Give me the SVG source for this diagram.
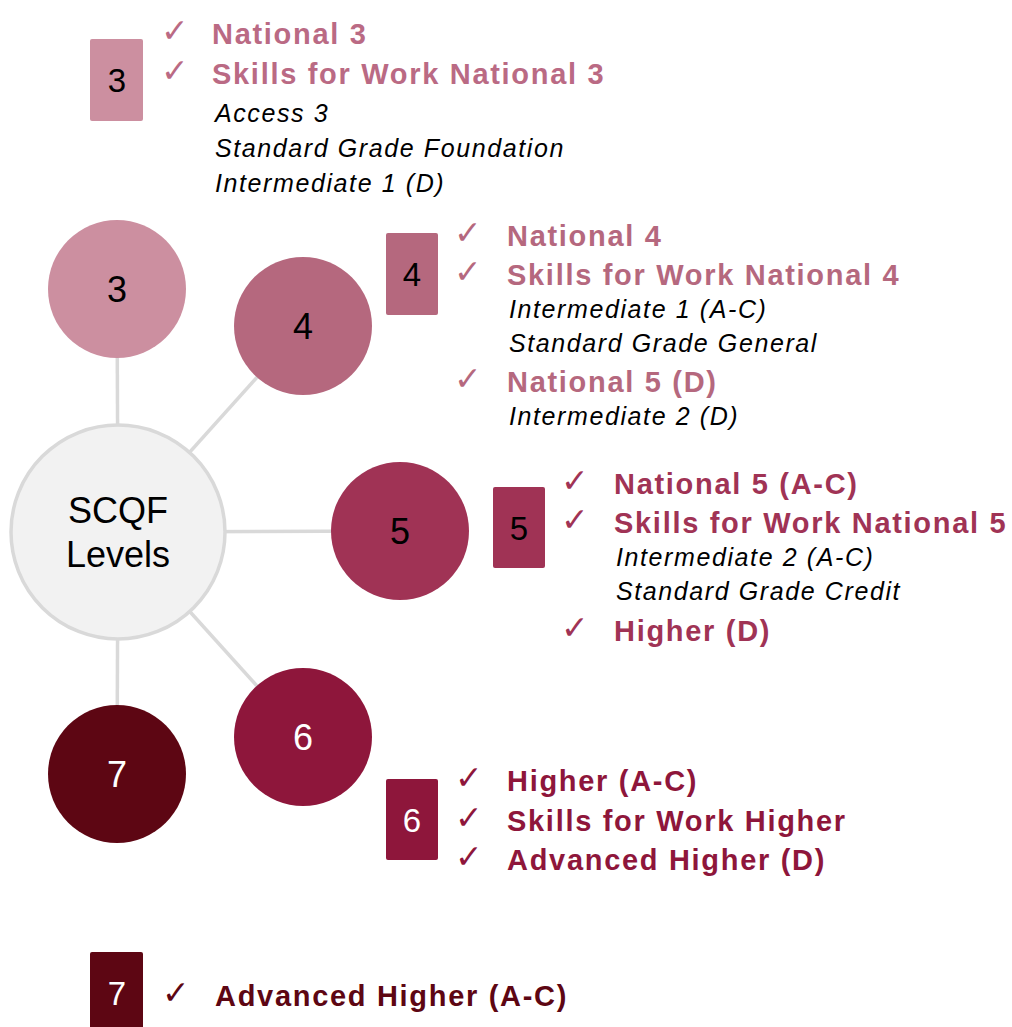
<svg xmlns="http://www.w3.org/2000/svg" width="1012" height="1027" viewBox="0 0 1012 1027">
<style>
.b{font-family:"Liberation Sans",Arial,sans-serif;font-weight:bold;font-size:29px;letter-spacing:1.7px}
.i{font-family:"Liberation Sans",Arial,sans-serif;font-style:italic;font-size:25px;letter-spacing:1.6px;fill:#000}
.ck{font-family:"DejaVu Sans",sans-serif;font-size:33px}
.n{font-family:"Liberation Sans",Arial,sans-serif;font-size:36px;text-anchor:middle}
.bx{font-family:"Liberation Sans",Arial,sans-serif;font-size:33px;text-anchor:middle}
.c3{fill:#cc8fa0}.c4{fill:#b5687e}.c5{fill:#a03355}.c6{fill:#8e163b}.c7{fill:#5d0613}
.t3{fill:#ba6a84}.t4{fill:#b5687e}.t5{fill:#a03355}.t6{fill:#8e163b}.t7{fill:#5d0613}
.con{stroke:#d9d9d9;stroke-width:3.5;fill:none}
</style>
<rect width="1012" height="1027" fill="#fff"/>
<g id="connectors">
<line class="con" x1="118" y1="532" x2="117" y2="289"/>
<line class="con" x1="118" y1="532" x2="303" y2="326"/>
<line class="con" x1="118" y1="532" x2="400" y2="531"/>
<line class="con" x1="118" y1="532" x2="303" y2="737"/>
<line class="con" x1="118" y1="532" x2="117" y2="774"/>
</g>
<g id="center">
<circle cx="118" cy="532" r="107" fill="#f2f2f2" stroke="#d9d9d9" stroke-width="3.5"/>
<text x="118" y="523" class="n">SCQF</text>
<text x="118" y="567" class="n">Levels</text>
</g>
<g id="circle3"><circle cx="117" cy="289" r="69" class="c3"/><text x="117" y="302" class="n">3</text></g>
<g id="circle4"><circle cx="303" cy="326" r="69" class="c4"/><text x="303" y="339" class="n">4</text></g>
<g id="circle5"><circle cx="400" cy="531" r="69" class="c5"/><text x="400" y="544" class="n">5</text></g>
<g id="circle6"><circle cx="303" cy="737" r="69" class="c6"/><text x="303" y="750" class="n" fill="#fff">6</text></g>
<g id="circle7"><circle cx="117" cy="774" r="69" class="c7"/><text x="117" y="787" class="n" fill="#fff">7</text></g>

<g id="level3">
<rect x="90" y="39" width="53" height="82" rx="2" class="c3"/>
<text x="117" y="92" class="bx">3</text>
<text x="161" y="42" class="ck t3">✓</text>
<text x="212" y="44" class="b t3">National 3</text>
<text x="161" y="82" class="ck t3">✓</text>
<text x="212" y="84" class="b t3">Skills for Work National 3</text>
<text x="215" y="122" class="i">Access 3</text>
<text x="215" y="157" class="i">Standard Grade Foundation</text>
<text x="215" y="192" class="i">Intermediate 1 (D)</text>
</g>
<g id="level4">
<rect x="386" y="233" width="52" height="82" rx="2" class="c4"/>
<text x="412" y="286" class="bx">4</text>
<text x="454" y="244" class="ck t4">✓</text>
<text x="507" y="246" class="b t4">National 4</text>
<text x="454" y="283" class="ck t4">✓</text>
<text x="507" y="285" class="b t4">Skills for Work National 4</text>
<text x="509" y="318" class="i">Intermediate 1 (A-C)</text>
<text x="509" y="352" class="i">Standard Grade General</text>
<text x="454" y="390" class="ck t4">✓</text>
<text x="507" y="392" class="b t4">National 5 (D)</text>
<text x="509" y="425" class="i">Intermediate 2 (D)</text>
</g>
<g id="level5">
<rect x="493" y="487" width="52" height="81" rx="2" class="c5"/>
<text x="519" y="540" class="bx">5</text>
<text x="561" y="492" class="ck t5">✓</text>
<text x="614" y="494" class="b t5">National 5 (A-C)</text>
<text x="561" y="531" class="ck t5">✓</text>
<text x="614" y="533" class="b t5">Skills for Work National 5</text>
<text x="616" y="566" class="i">Intermediate 2 (A-C)</text>
<text x="616" y="600" class="i">Standard Grade Credit</text>
<text x="561" y="639" class="ck t5">✓</text>
<text x="614" y="641" class="b t5">Higher (D)</text>
</g>
<g id="level6">
<rect x="386" y="779" width="52" height="81" rx="2" class="c6"/>
<text x="412" y="832" class="bx" fill="#fff">6</text>
<text x="455" y="789" class="ck t6">✓</text>
<text x="507" y="791" class="b t6">Higher (A-C)</text>
<text x="455" y="829" class="ck t6">✓</text>
<text x="507" y="831" class="b t6">Skills for Work Higher</text>
<text x="455" y="868" class="ck t6">✓</text>
<text x="507" y="870" class="b t6">Advanced Higher (D)</text>
</g>
<g id="level7">
<rect x="90" y="952" width="53" height="80" rx="2" class="c7"/>
<text x="117" y="1005" class="bx" fill="#fff">7</text>
<text x="162" y="1004" class="ck t7">✓</text>
<text x="215" y="1006" class="b t7">Advanced Higher (A-C)</text>
</g>
</svg>
